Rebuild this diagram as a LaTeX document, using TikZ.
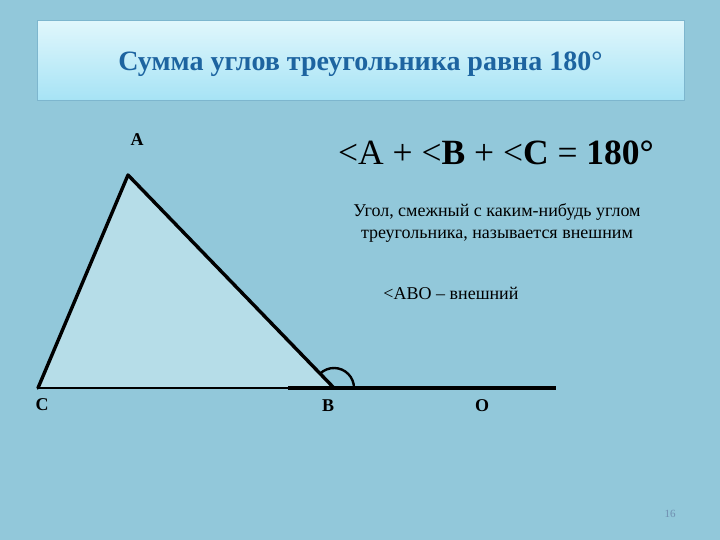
\documentclass[tikz,border=0pt]{standalone}
\usepackage{fontspec}
\setmainfont{Liberation Serif}
\definecolor{bg}{HTML}{92C8DA}
\definecolor{tfill}{HTML}{B6DDE8}
\definecolor{titletop}{HTML}{E0F7FC}
\definecolor{titlebot}{HTML}{A6E3F5}
\definecolor{titleborder}{HTML}{7DB6CE}
\definecolor{titletext}{HTML}{1D64A0}
\definecolor{pagenum}{HTML}{6F8FB0}
\tikzset{
  lbl/.style={font=\fontsize{18}{20}\selectfont\bfseries, inner sep=0pt},
  edge/.style={line width=3.4pt, line cap=round, line join=round},
}
\begin{document}
\begin{tikzpicture}[x=1pt,y=-1pt]
\useasboundingbox (0,0) rectangle (720,540);
\fill[bg] (0,0) rectangle (720,540);
% title box
\shade[top color=titletop, bottom color=titlebot] (37,21) rectangle (684,101);
\draw[titleborder, line width=1pt] (37,21) rectangle (684,101);
\node[font=\fontsize{28}{32}\selectfont\bfseries, text=titletext, inner sep=0pt] (title) at (360.5,64) {Сумма углов треугольника равна 180°};
% triangle
\coordinate (A) at (128,175);
\coordinate (C) at (38,388);
\coordinate (B) at (334,388);
\coordinate (O) at (556,388);
\coordinate (R) at (288,388);
\fill[tfill] (A) -- (B) -- (C) -- cycle;
\draw[edge] (C) -- (A) -- (B);
\draw[line width=2.8pt] (C) -- (B);
\draw[line width=3.8pt] (R) -- (O);
\draw[line width=2.4pt] ([shift={(226:20)}]B) arc[start angle=226, end angle=360, radius=20];
% labels
\node[lbl] (lA) at (137,140) {A};
\node[lbl] (lC) at (42,405) {C};
\node[lbl] (lB) at (328,406) {B};
\node[lbl] (lO) at (482,406) {O};
% texts
\node[font=\fontsize{35.5}{38}\selectfont, inner sep=0pt] (formula) at (496,153) {<A + <\textbf{B} + <\textbf{C} = \textbf{180°}};
\node[font=\fontsize{18}{21}\selectfont, align=center, inner sep=0pt] (def) at (497,223) {Угол, смежный с каким-нибудь углом\\треугольника, называется внешним};
\node[font=\fontsize{18}{20}\selectfont, inner sep=0pt] (abo) at (451,293) {<ABO – внешний};
\node[font=\fontsize{11}{12}\selectfont, text=pagenum, inner sep=0pt] (page) at (670,514) {16};
\end{tikzpicture}
\end{document}
